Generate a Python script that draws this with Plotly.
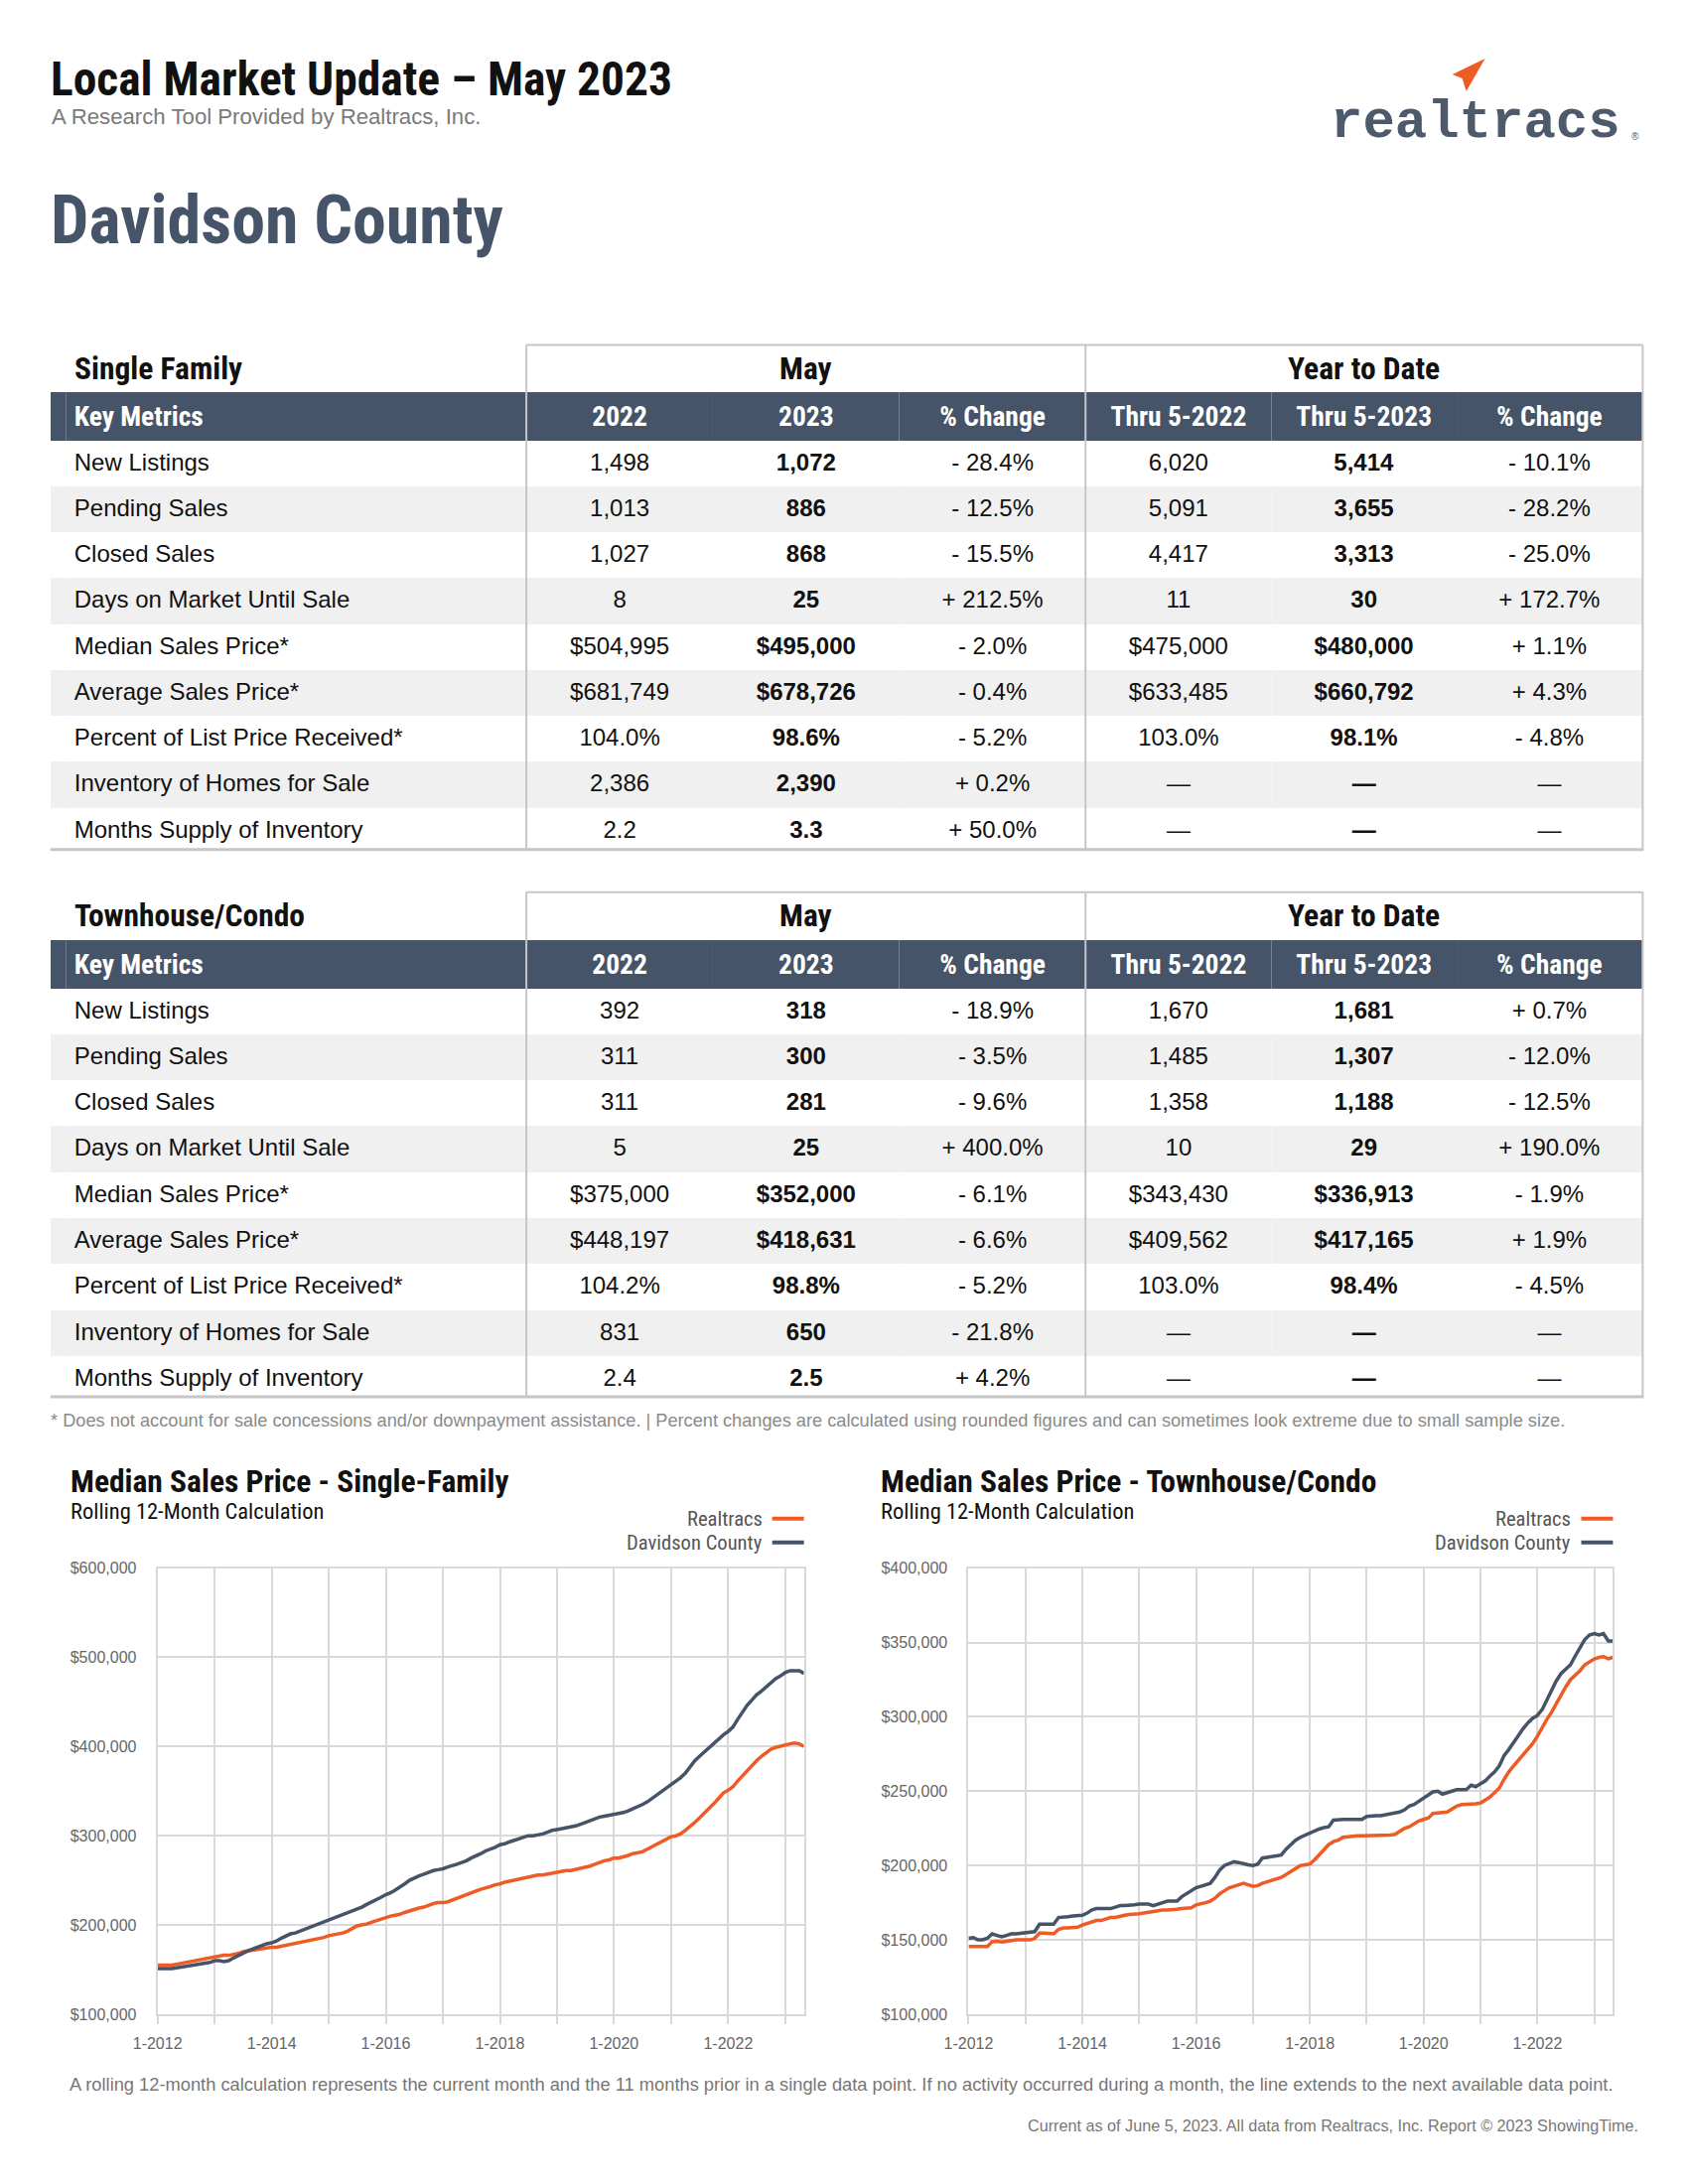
import pandas as pd
import plotly.graph_objects as go

W, H = 1700, 2200

# ---- table data ----
metrics = [
    "New Listings", "Pending Sales", "Closed Sales", "Days on Market Until Sale",
    "Median Sales Price*", "Average Sales Price*", "Percent of List Price Received*",
    "Inventory of Homes for Sale", "Months Supply of Inventory",
]
col_heads = ["Key Metrics", "2022", "2023", "% Change", "Thru 5-2022", "Thru 5-2023", "% Change"]

sf_may_2022 = ["1,498", "1,013", "1,027", "8", "$504,995", "$681,749", "104.0%", "2,386", "2.2"]
sf_may_2023 = ["1,072", "886", "868", "25", "$495,000", "$678,726", "98.6%", "2,390", "3.3"]
sf_may_chg = ["- 28.4%", "- 12.5%", "- 15.5%", "+ 212.5%", "- 2.0%", "- 0.4%", "- 5.2%", "+ 0.2%", "+ 50.0%"]
sf_ytd_2022 = ["6,020", "5,091", "4,417", "11", "$475,000", "$633,485", "103.0%", "—", "—"]
sf_ytd_2023 = ["5,414", "3,655", "3,313", "30", "$480,000", "$660,792", "98.1%", "—", "—"]
sf_ytd_chg = ["- 10.1%", "- 28.2%", "- 25.0%", "+ 172.7%", "+ 1.1%", "+ 4.3%", "- 4.8%", "—", "—"]

th_may_2022 = ["392", "311", "311", "5", "$375,000", "$448,197", "104.2%", "831", "2.4"]
th_may_2023 = ["318", "300", "281", "25", "$352,000", "$418,631", "98.8%", "650", "2.5"]
th_may_chg = ["- 18.9%", "- 3.5%", "- 9.6%", "+ 400.0%", "- 6.1%", "- 6.6%", "- 5.2%", "- 21.8%", "+ 4.2%"]
th_ytd_2022 = ["1,670", "1,485", "1,358", "10", "$343,430", "$409,562", "103.0%", "—", "—"]
th_ytd_2023 = ["1,681", "1,307", "1,188", "29", "$336,913", "$417,165", "98.4%", "—", "—"]
th_ytd_chg = ["+ 0.7%", "- 12.0%", "- 12.5%", "+ 190.0%", "- 1.9%", "+ 1.9%", "- 4.5%", "—", "—"]

# ---- chart data (rolling 12-month median, $ thousands, Jan 2012 - May 2023) ----
sf_realtracs = [
    155, 155, 155, 155, 156, 157, 158, 159, 160, 161, 162, 163,
    164, 165, 166, 166, 167, 168, 170, 171, 172, 173, 174, 174,
    175, 175, 176, 177, 178, 179, 180, 181, 182, 184, 185, 186,
    188, 189, 190, 191, 193, 196, 199, 200, 201, 203, 205, 207,
    209, 210, 211, 212, 214, 216, 217, 219, 220, 222, 224, 225,
    225, 226, 228, 230, 232, 234, 236, 238, 240, 241, 243, 245,
    246, 248, 249, 250, 251, 252, 254, 255, 256, 256, 257, 258,
    259, 260, 261, 261, 262, 263, 265, 266, 268, 270, 272, 273,
    275, 275, 276, 278, 280, 281, 282, 285, 288, 291, 294, 297,
    299, 300, 302, 306, 310, 315, 320, 325, 330, 336, 342, 348,
    351, 355, 361, 367, 373, 379, 384, 389, 393, 397, 399, 400,
    401, 403, 404, 403, 400,
]
sf_county = [
    151, 151, 151, 151, 152, 153, 153, 154, 155, 156, 157, 158,
    160, 160, 159, 160, 163, 166, 169, 171, 173, 175, 177, 179,
    180, 182, 185, 188, 190, 191, 193, 195, 197, 199, 201, 203,
    205, 207, 209, 211, 213, 216, 218, 220, 223, 226, 229, 231,
    234, 236, 239, 242, 246, 250, 253, 255, 257, 259, 261, 262,
    263, 265, 266, 268, 270, 272, 275, 277, 280, 283, 285, 287,
    290, 291, 293, 295, 297, 299, 300, 300, 301, 302, 304, 306,
    307, 308, 309, 310, 311, 313, 315, 317, 319, 321, 322, 323,
    324, 325, 326, 328, 330, 333, 335, 338, 342, 346, 350, 354,
    358, 361, 365, 370, 377, 384, 389, 394, 399, 404, 408, 413,
    417, 422, 430, 438, 446, 452, 458, 462, 467, 472, 476, 479,
    483, 485, 485, 485, 482,
]
th_realtracs = [
    145.5, 145.5, 145.5, 145.5, 145.5, 148.8, 149, 148.5, 149, 150, 150, 150,
    150, 150, 151, 154.5, 154.5, 154, 154, 157, 158, 158, 158, 158.5,
    160, 161, 162, 163, 163, 164, 165, 165, 166, 166.5, 167, 167,
    167.5, 168, 168.5, 169, 169.5, 170, 170, 170, 170.5, 171, 171, 171.5,
    173.5, 174, 175, 176, 178, 181, 183, 185, 186, 187, 188, 187,
    186, 186.5, 188, 189, 190, 191, 192, 194, 196, 198, 200, 200.5,
    201, 204, 207, 210, 214, 216, 217, 219, 219.5, 220, 220, 220,
    220, 220, 220, 220, 220, 220.5, 221, 223, 225, 226, 228, 230,
    231, 232, 235, 235.5, 235.5, 236, 238, 240, 241, 241, 241, 241.5,
    242, 244, 246, 249, 252, 258, 263, 267, 271, 275, 279, 282,
    287, 293, 298, 303, 309, 315, 320, 325, 328, 331, 335, 337,
    339, 340, 340.5, 339, 340,
]
th_county = [
    151, 151.5, 150, 150, 151, 154, 153, 152, 153, 154, 154, 154.5,
    155, 155.5, 155.5, 160.5, 160.5, 160.5, 160.5, 165, 165, 165.5, 166, 166,
    166.5, 168, 170, 171, 171, 171, 171, 172, 173, 173, 173, 173.5,
    174, 174, 174, 173, 174, 175, 176, 176, 176, 179, 181, 183,
    185, 186, 187, 188, 192, 197, 200, 201, 202.5, 202, 201, 200.5,
    200, 201, 205, 205.5, 206, 206, 207, 211, 214, 217, 219, 220.5,
    222, 223, 224.5, 225.5, 226, 230.5, 231, 231, 231, 231, 231, 231,
    233, 233.5, 233.5, 233.5, 234, 234.5, 235, 236, 237.5, 240, 241, 243,
    245, 247, 249.5, 250, 248, 249, 250, 251, 251, 251, 254, 253,
    255, 257, 260, 263, 267, 274, 278, 283, 288, 292, 296, 299,
    301, 305, 311, 318, 324, 329, 332, 335, 341, 346, 352, 355,
    356, 355, 356, 351, 351,
]
months = pd.date_range("2012-01-01", periods=len(sf_realtracs), freq="MS")

ORANGE = "#ef5b25"
SLATE = "#465467"
HEAD = "#455468"
GRID = "#d9d9d9"
BORDER = "#c6c6c6"
SANS = "Liberation Sans, Arial, sans-serif"
COND = "Liberation Sans Narrow, Roboto Condensed, DejaVu Sans Condensed, Liberation Sans, sans-serif"

# page positions below are measured on the printed page; map them onto the figure
SX, OX = 1.0134, -32.6
SY, OY = 1.0062, -16.0


def px(x):
    return (SX * x + OX) / W


def py(y):
    return 1 - (SY * y + OY) / H


fig = go.Figure()


def add_table(top, bottom, cols):
    shade = ["white", "#f0f0f0"] * 5
    row_fill = shade[:len(metrics)]
    bold_cols = {3, 6}
    values = [[""] * len(metrics), [f"<span>{m}</span>" for m in metrics]]
    for i, col in enumerate(cols, start=2):
        values.append([f"<b>{v}</b>" if i in bold_cols else f"<span>{v}</span>" for v in col])
    fig.add_trace(go.Table(
        domain=dict(x=[px(50), px(1656)], y=[py(bottom), py(top)]),
        columnwidth=[16, 464, 188, 188, 188, 187, 187, 187],
        header=dict(
            values=[""] + [f"<b>{h}</b>" for h in col_heads],
            fill_color=HEAD, line=dict(width=0, color=HEAD),
            align=["left", "left"] + ["center"] * 6,
            font=dict(family=COND, size=27.5, color="white"),
            height=47 * SY,
        ),
        cells=dict(
            values=values,
            fill_color=[row_fill] * 8, line=dict(width=0, color="white"),
            align=["left", "left"] + ["center"] * 6,
            font=dict(family=SANS, size=24, color="#111111"),
            height=46 * SY,
        ),
    ))


add_table(395, 856, [sf_may_2022, sf_may_2023, sf_may_chg, sf_ytd_2022, sf_ytd_2023, sf_ytd_chg])
add_table(948, 1409, [th_may_2022, th_may_2023, th_may_chg, th_ytd_2022, th_ytd_2023, th_ytd_chg])

# ---- line charts ----
for series, name, color in [(sf_realtracs, "Realtracs", ORANGE), (sf_county, "Davidson County", SLATE)]:
    fig.add_trace(go.Scatter(x=months, y=[v * 1000 for v in series], mode="lines", name=name,
                             line=dict(color=color, width=3.5), showlegend=False,
                             xaxis="x", yaxis="y"))
for series, name, color in [(th_realtracs, "Realtracs", ORANGE), (th_county, "Davidson County", SLATE)]:
    fig.add_trace(go.Scatter(x=months, y=[v * 1000 for v in series], mode="lines", name=name,
                             line=dict(color=color, width=3.5), showlegend=False,
                             xaxis="x2", yaxis="y2"))

xcommon = dict(
    type="date", range=["2012-01-01", "2023-05-01"], tick0="2012-01-01", dtick="M24",
    tickformat="%-m-%Y", showgrid=True, gridcolor=GRID, gridwidth=2,
    showline=True, linecolor=GRID, linewidth=2, mirror=True,
    ticks="outside", ticklen=8, tickcolor=GRID, tickwidth=2,
    minor=dict(dtick="M12", showgrid=True, gridcolor=GRID, gridwidth=2,
               ticks="outside", ticklen=8, tickcolor=GRID, tickwidth=2),
    tickfont=dict(family=SANS, size=16, color="#666666"), ticklabelstandoff=6,
)
ycommon = dict(
    showgrid=True, gridcolor=GRID, gridwidth=2, showline=True, linecolor=GRID,
    linewidth=2, mirror=True, ticks="", tickprefix="$", tickformat=",.0f",
    tickfont=dict(family=SANS, size=16, color="#666666"), ticklabelstandoff=16,
    domain=[py(2032), py(1582)],
)

fig.update_layout(
    width=W, height=H, margin=dict(l=0, r=0, t=0, b=0),
    paper_bgcolor="white", plot_bgcolor="white", showlegend=False,
    xaxis=dict(xcommon, domain=[px(158), px(810)], anchor="y"),
    yaxis=dict(ycommon, range=[100000, 600000], dtick=100000, anchor="x"),
    xaxis2=dict(xcommon, domain=[px(976), px(1626)], anchor="y2"),
    yaxis2=dict(ycommon, range=[100000, 400000], dtick=50000, anchor="x2"),
)

ann = []


def text(x, y, s, size, color="#111111", family=SANS, xanchor="left"):
    ann.append(dict(x=px(x), y=py(y), xref="paper", yref="paper", text=s, showarrow=False,
                    xanchor=xanchor, yanchor="middle", font=dict(family=family, size=size, color=color)))


text(48, 80, "<b>Local Market Update – May 2023</b>", 47.5, family=COND)
text(49, 118, "A Research Tool Provided by Realtracs, Inc.", 22.2, color="#7a7a7a")
text(48, 222, "<b>Davidson County</b>", 68, color=HEAD, family=COND)
text(1636, 124, "<b>realtracs</b>", 54, color="#4d5a6c",
     family="Liberation Mono, DejaVu Sans Mono, monospace", xanchor="right")
text(1643, 138, "®", 10, color="#4d5a6c")

for top, label in [(372, "Single Family"), (924, "Townhouse/Condo")]:
    text(72, top, f"<b>{label}</b>", 31.5, family=COND)
    text(812, top, "<b>May</b>", 31.5, family=COND, xanchor="center")
    text(1375, top, "<b>Year to Date</b>", 31.5, family=COND, xanchor="center")

text(48, 1433, "* Does not account for sale concessions and/or downpayment assistance. | "
     "Percent changes are calculated using rounded figures and can sometimes look extreme due to small sample size.",
     18.2, color="#8a8a8a")

text(68, 1495, "<b>Median Sales Price - Single-Family</b>", 31.5, family=COND)
text(68, 1524, "Rolling 12-Month Calculation", 22.5, family=COND)
text(885, 1495, "<b>Median Sales Price - Townhouse/Condo</b>", 31.5, family=COND)
text(885, 1524, "Rolling 12-Month Calculation", 22.5, family=COND)

shapes = []
for right in (810, 1626):
    text(right - 40, 1532, "Realtracs", 20.6, color="#555555", family=COND, xanchor="right")
    text(right - 40, 1556, "Davidson County", 20.6, color="#555555", family=COND, xanchor="right")
    for yy, c in [(1532, ORANGE), (1556, SLATE)]:
        shapes.append(dict(type="line", xref="paper", yref="paper", x0=px(right - 32), x1=px(right),
                           y0=py(yy), y1=py(yy), line=dict(color=c, width=4)))

text(848, 2103, "A rolling 12-month calculation represents the current month and the 11 months prior in a single data point. "
     "If no activity occurred during a month, the line extends to the next available data point.",
     18.3, color="#777777", xanchor="center")
text(1654, 2144, "Current as of June 5, 2023. All data from Realtracs, Inc. Report © 2023 ShowingTime.",
     16.2, color="#777777", xanchor="right")

# table borders
for top, bottom in [(348, 857), (900, 1409)]:
    shapes.append(dict(type="line", xref="paper", yref="paper", x0=px(530), x1=px(1656),
                       y0=py(top), y1=py(top), line=dict(color=BORDER, width=2)))
    for xx in (530, 1094, 1656):
        shapes.append(dict(type="line", xref="paper", yref="paper", x0=px(xx), x1=px(xx),
                           y0=py(top), y1=py(bottom), line=dict(color=BORDER, width=2)))
    shapes.append(dict(type="line", xref="paper", yref="paper", x0=px(50), x1=px(1657),
                       y0=py(bottom), y1=py(bottom), line=dict(color=BORDER, width=3)))

# logo mark
nib = [(1464, 75), (1497, 59), (1478, 92), (1474, 79)]
path = "M " + " L ".join(f"{px(a):.5f},{py(b):.5f}" for a, b in nib) + " Z"
shapes.append(dict(type="path", xref="paper", yref="paper", path=path,
                   fillcolor=ORANGE, line=dict(width=0)))

fig.update_layout(annotations=ann, shapes=shapes)
fig.write_html("out.html")
